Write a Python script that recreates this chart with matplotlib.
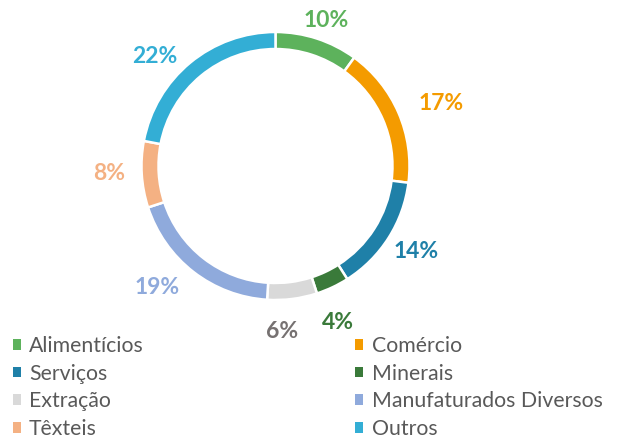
import numpy as np
import matplotlib
matplotlib.use("Agg")
import matplotlib.pyplot as plt
import matplotlib.transforms as mtransforms
from matplotlib.patches import Patch

categories = ["Alimentícios", "Comércio", "Serviços", "Minerais", "Extração",
              "Manufaturados Diversos", "Têxteis", "Outros"]
values = [10, 17, 14, 4, 6, 19, 8, 22]
colors = ["#5DB25C", "#F49B00", "#1F80A8", "#3A7A3A", "#D9D9D9",
          "#8FAADC", "#F4B183", "#33AED5"]
label_colors = ["#5DB25C", "#F49B00", "#1F80A8", "#3A7A3A", "#767171",
                "#8FAADC", "#F4B183", "#33AED5"]
# label placement (angle offset deg, radial distance) - layout only
label_layout = [(-1, 1.17), (-2, 1.33), (2, 1.22), (-3, 1.24), (-5, 1.22),
                (-7, 1.25), (-2, 1.24), (7.5, 1.23)]

plt.rcParams['font.family'] = ['Lato', 'DejaVu Sans']

W, H = 618, 442
fig = plt.figure(figsize=(W / 100, H / 100), dpi=100)
cx, cy, R = 275.5, 166, 134
ax = fig.add_axes([(cx - R) / W, (H - cy - R) / H, 2 * R / W, 2 * R / H])
ax.axis('off')

wedges, _ = ax.pie(values, colors=colors, startangle=90, counterclock=False,
                   radius=1.0, wedgeprops=dict(width=0.127, edgecolor='white', linewidth=1.8))
ax.set_xlim(-1, 1)
ax.set_ylim(-1, 1)
ax.set_aspect('equal')

tr = mtransforms.offset_copy(ax.transData, fig=fig, x=0, y=-2.5, units='dots')
total = float(sum(values))
cum = np.cumsum([0] + values[:-1])
for v, c0, lc, (da, d) in zip(values, cum, label_colors, label_layout):
    mid = 90 - 360 * (c0 + v / 2) / total + da
    x = d * np.cos(np.radians(mid))
    y = d * np.sin(np.radians(mid))
    ax.text(x, y, f"{v}%", color=lc, fontsize=16.5, fontweight='bold',
            ha='center', va='center', clip_on=False, transform=tr)

def make_legend(idx, x_px):
    handles = [Patch(facecolor=colors[i], edgecolor='none') for i in idx]
    labels = [categories[i] for i in idx]
    leg = fig.legend(handles, labels, loc='upper left',
                     bbox_to_anchor=(x_px / W, 1 - 336 / H),
                     frameon=False, fontsize=15.3, labelcolor='#595959',
                     handlelength=0.38, handleheight=0.38, handletextpad=0.4,
                     labelspacing=0.36, borderpad=0, borderaxespad=0)
    return leg

make_legend([0, 2, 4, 6], 12.5)
make_legend([1, 3, 5, 7], 355)

fig.savefig("out.png", dpi=100)
